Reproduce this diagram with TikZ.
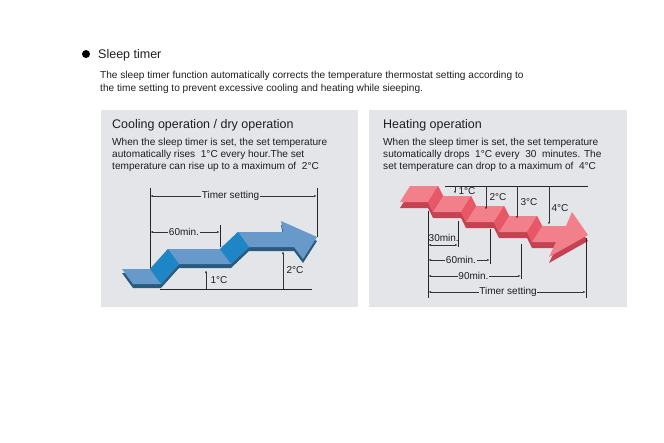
\documentclass[tikz,border=0pt]{standalone}
\usepackage{fontspec}
\setmainfont{Liberation Sans}
\usetikzlibrary{positioning, arrows.meta, calc}
\definecolor{panelGray}{RGB}{227, 229, 233}
\definecolor{textColor}{RGB}{30, 30, 30}
\definecolor{blueTop}{RGB}{103, 153, 203}
\definecolor{blueRamp}{RGB}{30, 134, 197}
\definecolor{blueSide}{RGB}{42, 90, 126}
\definecolor{redTop}{RGB}{242, 128, 138}
\definecolor{redRamp}{RGB}{231, 87, 103}
\definecolor{redSide}{RGB}{196, 66, 82}

\begin{document}
\begin{tikzpicture}[
        x=1pt, y=-1pt,
        panel/.style={
            fill=panelGray,
            draw=none
        },
        heading/.style={
            anchor=base west,
            inner sep=0pt,
            text=textColor,
            font=\fontsize{12.5}{14}\selectfont
        },
        body/.style={
            anchor=base west,
            inner sep=0pt,
            text=textColor,
            font=\fontsize{10.1}{12}\selectfont
        },
        dimtext/.style={
            fill=panelGray,
            inner sep=0.6pt,
            text=textColor,
            font=\fontsize{10}{11}\selectfont
        },
        degtext/.style={
            inner sep=0pt,
            text=textColor,
            font=\fontsize{10}{11}\selectfont
        },
        guide/.style={
            line width=0.6pt,
            draw=black!85
        },
        dimline/.style={
            {Latex[length=3pt,width=1.8pt]}-{Latex[length=3pt,width=1.8pt]},
            line width=0.5pt,
            draw=black!80
        },
        flecha/.style={
            -{Latex[length=3pt,width=1.8pt]},
            line width=0.5pt,
            draw=black!80
        }
    ]

    \useasboundingbox (0,0) rectangle (664,442);

    % title and introduction
    \fill[black] (86,54) circle (4);
    \node[heading] (title) at (98,58.5) {Sleep timer};
    \node[body] (intro1) at (100,78) {The sleep timer function automatically corrects the temperature thermostat setting according to};
    \node[body] (intro2) at (100,91) {the time setting to prevent excessive cooling and heating while sieeping.};

    % panels
    \fill[panel] (101,110) rectangle (358,307);
    \fill[panel] (369,110) rectangle (627,307);

    % cooling panel text
    \node[heading] (coolTitle) at (112,128.5) {Cooling operation / dry operation};
    \node[body] (cool1) at (112,145) {When the sleep timer is set, the set temperature};
    \node[body] (cool2) at (112,157) {automatically rises\ \ 1°C every hour.The set};
    \node[body] (cool3) at (112,169) {temperature can rise up to a maximum of\ \ 2°C};

    % heating panel text
    \node[heading] (heatTitle) at (383,128.5) {Heating operation};
    \node[body] (heat1) at (383,145) {When the sleep timer is set, the set temperature};
    \node[body] (heat2) at (383,157) {sutomatically drops\ \ 1°C every\ \ 30\ \ minutes. The};
    \node[body] (heat3) at (383,169) {set temperature can drop to a maximum of\ \ 4°C};

    % cooling arrow (rising)
    \begin{scope}[shift={(0,4)}]
        \fill[blueSide] (122,269) -- (150,269) -- (168,249) -- (220,249) -- (238,232) -- (283,232)
            -- (281,221) -- (317,237) -- (303,259) -- (294,247) -- (249,247) -- (231,264)
            -- (179,264) -- (161,284) -- (133,284) -- cycle;
    \end{scope}
    \fill[blueTop] (122,269) -- (150,269) -- (168,249) -- (220,249) -- (238,232) -- (283,232)
        -- (281,221) -- (317,237) -- (303,259) -- (294,247) -- (249,247) -- (231,264)
        -- (179,264) -- (161,284) -- (133,284) -- cycle;
    \fill[blueRamp] (150,269) -- (168,249) -- (179,264) -- (161,284) -- cycle;
    \fill[blueRamp] (220,249) -- (238,232) -- (249,247) -- (231,264) -- cycle;

    % cooling dimensions
    \coordinate (coolA) at (150,188);
    \coordinate (coolAend) at (150,268);
    \coordinate (coolB) at (317,188);
    \coordinate (coolBend) at (317,237);
    \coordinate (coolC) at (220,225);
    \coordinate (coolCend) at (220,247);
    \coordinate (baseL) at (160,289);
    \coordinate (baseR) at (312,289);
    \draw[guide] (coolA) -- (coolAend);
    \draw[guide] (coolB) -- (coolBend);
    \draw[guide] (coolC) -- (coolCend);
    \draw[guide] (baseL) -- (baseR);
    \draw[dimline] (150,196) -- node[dimtext, xshift=-3pt] (coolTimer) {Timer setting} (317,196);
    \draw[dimline] (150,232) -- node[dimtext, xshift=-1pt] (cool60) {60min.} (220,232);
    \coordinate (rise1) at (206,270);
    \coordinate (rise2) at (283,251);
    \draw[flecha] (206,289) -- (rise1);
    \draw[flecha] (283,289) -- (rise2);
    \node[degtext] (cool1C) at (219,280) {1°C};
    \node[degtext] (cool2C) at (295,270) {2°C};

    % heating arrow (falling)
    \begin{scope}[shift={(0,6)}]
        \fill[redSide] (410,186) -- (438,186) -- (443,196) -- (471,196) -- (476,206) -- (504,206)
            -- (509,216) -- (537,216) -- (542,226) -- (566,226) -- (572,212) -- (588,235)
            -- (549,257) -- (556,242) -- (532,242) -- (527,232) -- (499,232) -- (494,222)
            -- (466,222) -- (461,212) -- (433,212) -- (428,202) -- (400,202) -- cycle;
    \end{scope}
    \fill[redTop] (410,186) -- (438,186) -- (443,196) -- (471,196) -- (476,206) -- (504,206)
        -- (509,216) -- (537,216) -- (542,226) -- (566,226) -- (572,212) -- (588,235)
        -- (549,257) -- (556,242) -- (532,242) -- (527,232) -- (499,232) -- (494,222)
        -- (466,222) -- (461,212) -- (433,212) -- (428,202) -- (400,202) -- cycle;
    \foreach \dx/\dy in {0/0, 33/10, 66/20, 99/30} {
        \fill[redRamp] (438+\dx,186+\dy) -- (443+\dx,196+\dy) -- (433+\dx,212+\dy) -- (428+\dx,202+\dy) -- cycle;
    }

    % heating dimensions
    \coordinate (topL) at (445,186);
    \coordinate (topR) at (588,186);
    \draw[guide] (topL) -- (topR);
    \coordinate (drop1) at (455,194);
    \coordinate (drop2) at (486,210);
    \coordinate (drop3) at (517,219);
    \coordinate (drop4) at (549,225);
    \draw[flecha] (455,186) -- (drop1);
    \draw[flecha] (486,186) -- (drop2);
    \draw[flecha] (517,186) -- (drop3);
    \draw[flecha] (549,186) -- (drop4);
    \node[degtext] (heat1C) at (467,191) {1°C};
    \node[degtext] (heat2C) at (498,197) {2°C};
    \node[degtext] (heat3C) at (529,202) {3°C};
    \node[degtext] (heat4C) at (560,208) {4°C};

    \coordinate (heatA) at (428,211);
    \coordinate (heatAend) at (428,298);
    \coordinate (heatB) at (458,221);
    \coordinate (heatBend) at (458,247);
    \coordinate (heatC) at (490,229);
    \coordinate (heatCend) at (490,264);
    \coordinate (heatD) at (521,244);
    \coordinate (heatDend) at (521,279);
    \coordinate (heatE) at (586,238);
    \coordinate (heatEend) at (586,298);
    \draw[guide] (heatA) -- (heatAend);
    \draw[guide] (heatB) -- (heatBend);
    \draw[guide] (heatC) -- (heatCend);
    \draw[guide] (heatD) -- (heatDend);
    \draw[guide] (heatE) -- (heatEend);
    \draw[dimline] (428,245) -- (458,245);
    \node[degtext, anchor=base west] (heat30) at (428.5,241) {30min.};
    \draw[dimline] (428,260) -- node[dimtext, xshift=2pt] (heat60) {60min.} (490,260);
    \draw[dimline] (428,276) -- node[dimtext, xshift=-1pt] (heat90) {90min.} (521,276);
    \draw[dimline] (428,292) -- node[dimtext, xshift=1pt] (heatTimer) {Timer setting} (586,292);

\end{tikzpicture}
\end{document}
